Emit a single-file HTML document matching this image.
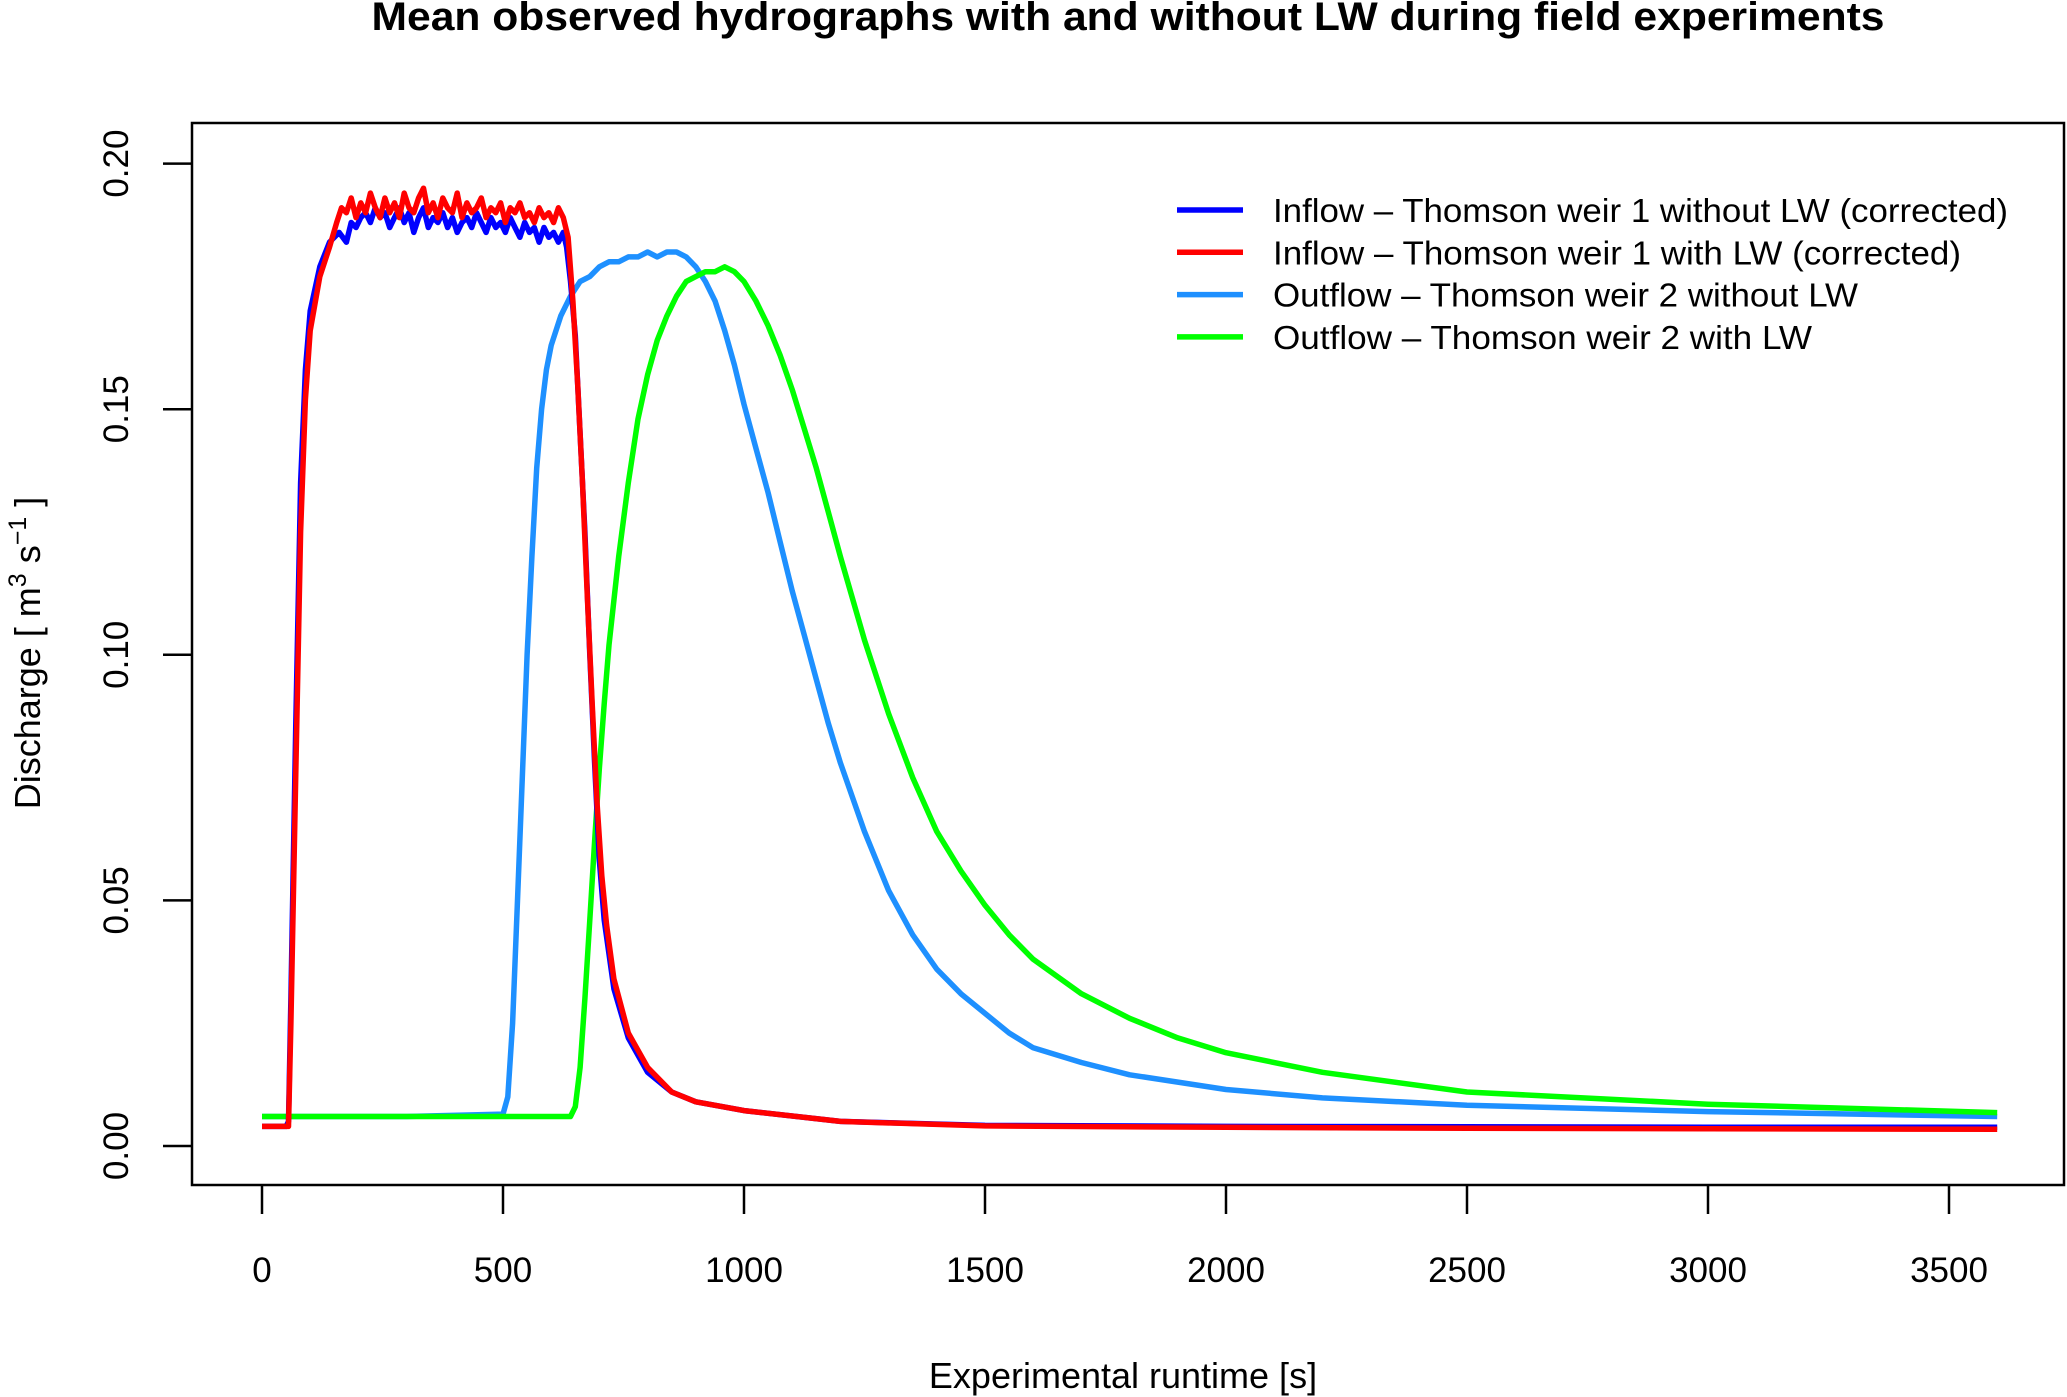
<!DOCTYPE html>
<html><head><meta charset="utf-8"><style>
html,body{margin:0;padding:0;background:#fff;}
svg{display:block;font-family:"Liberation Sans",sans-serif;}
</style></head><body>
<svg id="chart" width="2067" height="1397" viewBox="0 0 2067 1397" xmlns="http://www.w3.org/2000/svg">
<text x="1128" y="30" text-anchor="middle" font-size="40" font-weight="bold" textLength="1513" lengthAdjust="spacingAndGlyphs">Mean observed hydrographs with and without LW during field experiments</text>
<rect x="192" y="123" width="1872" height="1062" fill="none" stroke="#000" stroke-width="2.5"/>
<g id="xaxis"></g>
<g id="yaxis"></g>
<text x="1123" y="1388" text-anchor="middle" font-size="36">Experimental runtime [s]</text>
<text transform="translate(40,653) rotate(-90)" text-anchor="middle" font-size="36">Discharge [ m<tspan font-size="25" dy="-14">3</tspan><tspan dy="14"> s</tspan><tspan font-size="25" dy="-14">−1</tspan><tspan dy="14"> ]</tspan></text>
<g id="series"></g>
<g id="legend"></g>
</svg>
<script>
const xTicks=[0,500,1000,1500,2000,2500,3000,3500];
const yTicks=[0.00,0.05,0.10,0.15,0.20];
const yTickLabels=["0.00","0.05","0.10","0.15","0.20"];
const seriesNames=["Inflow – Thomson weir 1 without LW (corrected)","Inflow – Thomson weir 1 with LW (corrected)","Outflow – Thomson weir 2 without LW","Outflow – Thomson weir 2 with LW"];
const seriesColors=["#0000ff","#ff0000","#1e90ff","#00ff00"];
const inflowNoLwT=[0,50,55,60,70,80,90,100,120,140,160,175,185,195,205,215,225,235,245,255,265,275,285,295,305,315,325,335,345,355,365,375,385,395,405,415,425,435,445,455,465,475,485,495,505,515,525,535,545,555,565,575,585,595,605,615,625,632,640,650,660,670,680,690,700,710,730,760,800,850,900,1000,1200,1500,2000,2500,3000,3600];
const inflowNoLwQ=[0.004,0.004,0.005,0.03,0.085,0.135,0.158,0.170,0.179,0.184,0.186,0.184,0.188,0.187,0.189,0.190,0.188,0.191,0.189,0.190,0.187,0.189,0.191,0.188,0.190,0.186,0.189,0.191,0.187,0.189,0.188,0.190,0.187,0.189,0.186,0.188,0.189,0.187,0.190,0.188,0.186,0.189,0.187,0.188,0.186,0.189,0.187,0.185,0.188,0.186,0.187,0.184,0.187,0.185,0.186,0.184,0.186,0.183,0.176,0.165,0.145,0.125,0.1,0.078,0.058,0.046,0.032,0.022,0.015,0.011,0.009,0.0072,0.005,0.0042,0.004,0.0039,0.0038,0.0038];
const inflowLwT=[0,50,55,60,70,80,90,100,120,140,155,165,175,185,195,205,215,225,235,245,255,265,275,285,295,305,315,325,335,345,355,365,375,385,395,405,415,425,435,445,455,465,475,485,495,505,515,525,535,545,555,565,575,585,595,605,615,625,635,645,655,665,675,685,695,705,715,730,760,800,850,900,1000,1200,1500,2000,2500,3000,3600];
const inflowLwQ=[0.004,0.004,0.004,0.025,0.075,0.125,0.152,0.166,0.177,0.183,0.188,0.191,0.190,0.193,0.189,0.192,0.190,0.194,0.191,0.189,0.193,0.190,0.192,0.189,0.194,0.191,0.190,0.193,0.195,0.190,0.192,0.189,0.193,0.191,0.190,0.194,0.189,0.192,0.190,0.191,0.193,0.189,0.191,0.190,0.192,0.188,0.191,0.190,0.192,0.189,0.190,0.188,0.191,0.189,0.190,0.188,0.191,0.189,0.185,0.172,0.155,0.135,0.112,0.09,0.07,0.055,0.045,0.034,0.023,0.016,0.011,0.009,0.0072,0.005,0.0041,0.0038,0.0036,0.0035,0.0034];
const outflowNoLwT=[0,300,500,510,520,530,540,550,560,570,580,590,600,620,640,660,680,700,720,740,760,780,800,820,840,860,880,900,920,940,960,980,1000,1025,1050,1075,1100,1125,1150,1175,1200,1250,1300,1350,1400,1450,1500,1550,1600,1700,1800,1900,2000,2200,2500,3000,3600];
const outflowNoLwQ=[0.006,0.006,0.0065,0.01,0.025,0.05,0.075,0.1,0.12,0.138,0.15,0.158,0.163,0.169,0.173,0.176,0.177,0.179,0.180,0.180,0.181,0.181,0.182,0.181,0.182,0.182,0.181,0.179,0.176,0.172,0.166,0.159,0.151,0.142,0.133,0.123,0.113,0.104,0.095,0.086,0.078,0.064,0.052,0.043,0.036,0.031,0.027,0.023,0.020,0.017,0.0145,0.013,0.0115,0.0098,0.0083,0.007,0.006];
const outflowLwT=[0,640,650,660,670,680,690,700,710,720,740,760,780,800,820,840,860,880,900,920,940,960,980,1000,1025,1050,1075,1100,1125,1150,1175,1200,1250,1300,1350,1400,1450,1500,1550,1600,1700,1800,1900,2000,2200,2500,3000,3600];
const outflowLwQ=[0.006,0.006,0.008,0.016,0.03,0.046,0.062,0.077,0.09,0.102,0.12,0.135,0.148,0.157,0.164,0.169,0.173,0.176,0.177,0.178,0.178,0.179,0.178,0.176,0.172,0.167,0.161,0.154,0.146,0.138,0.129,0.12,0.103,0.088,0.075,0.064,0.056,0.049,0.043,0.038,0.031,0.026,0.022,0.019,0.015,0.011,0.0085,0.0068];
const NS="http://www.w3.org/2000/svg";
const X0=262, XPER=241/500, Y0=1146, YPER=245.6/0.05;
function sx(t){return X0+t*XPER;}
function sy(q){return Y0-q*YPER;}
function el(tag,attrs,parent){const e=document.createElementNS(NS,tag);for(const k in attrs)e.setAttribute(k,attrs[k]);parent.appendChild(e);return e;}
const xa=document.getElementById('xaxis'), ya=document.getElementById('yaxis');
xTicks.forEach(v=>{
  const l=el('line',{x1:sx(v),x2:sx(v),y1:1185,y2:1214,stroke:'#000','stroke-width':2.5},xa);
  
  
  const t=el('text',{x:sx(v),y:1282,'text-anchor':'middle','font-size':35},xa);
  
  
  t.textContent=String(v);
});
yTicks.forEach((v,i)=>{
  const l=el('line',{x1:163,x2:192,y1:sy(v),y2:sy(v),stroke:'#000','stroke-width':2.5},ya);
  
  
  const t=el('text',{transform:`translate(128,${sy(v)}) rotate(-90)`,'text-anchor':'middle','font-size':35},ya);
  
  
  t.textContent=yTickLabels[i];
});
const sg=document.getElementById('series');
const all=[[inflowNoLwT,inflowNoLwQ],[inflowLwT,inflowLwQ],[outflowNoLwT,outflowNoLwQ],[outflowLwT,outflowLwQ]];
const order=[2,3,0,1];
const sNames=['inflow-without-lw-line','inflow-with-lw-line','outflow-without-lw-line','outflow-with-lw-line'];
order.forEach(i=>{
  const [T,Q]=all[i];
  const d=T.map((t,j)=>(j?'L':'M')+sx(t).toFixed(1)+' '+sy(Q[j]).toFixed(1)).join(' ');
  const p=el('path',{d:d,fill:'none',stroke:seriesColors[i],'stroke-width':5.5,'stroke-linejoin':'round'},sg);
  
  
});
const lg=document.getElementById('legend');
const lens=[735,688,585,539];
seriesNames.forEach((n,i)=>{
  const y=210+i*42.3;
  const l=el('line',{x1:1177,x2:1243,y1:y,y2:y,stroke:seriesColors[i],'stroke-width':5.5},lg);
  
  
  const t=el('text',{x:1273,y:y+12,'font-size':33,textLength:lens[i],lengthAdjust:'spacingAndGlyphs'},lg);
  
  
  t.textContent=n;
});
</script>
</body></html>
